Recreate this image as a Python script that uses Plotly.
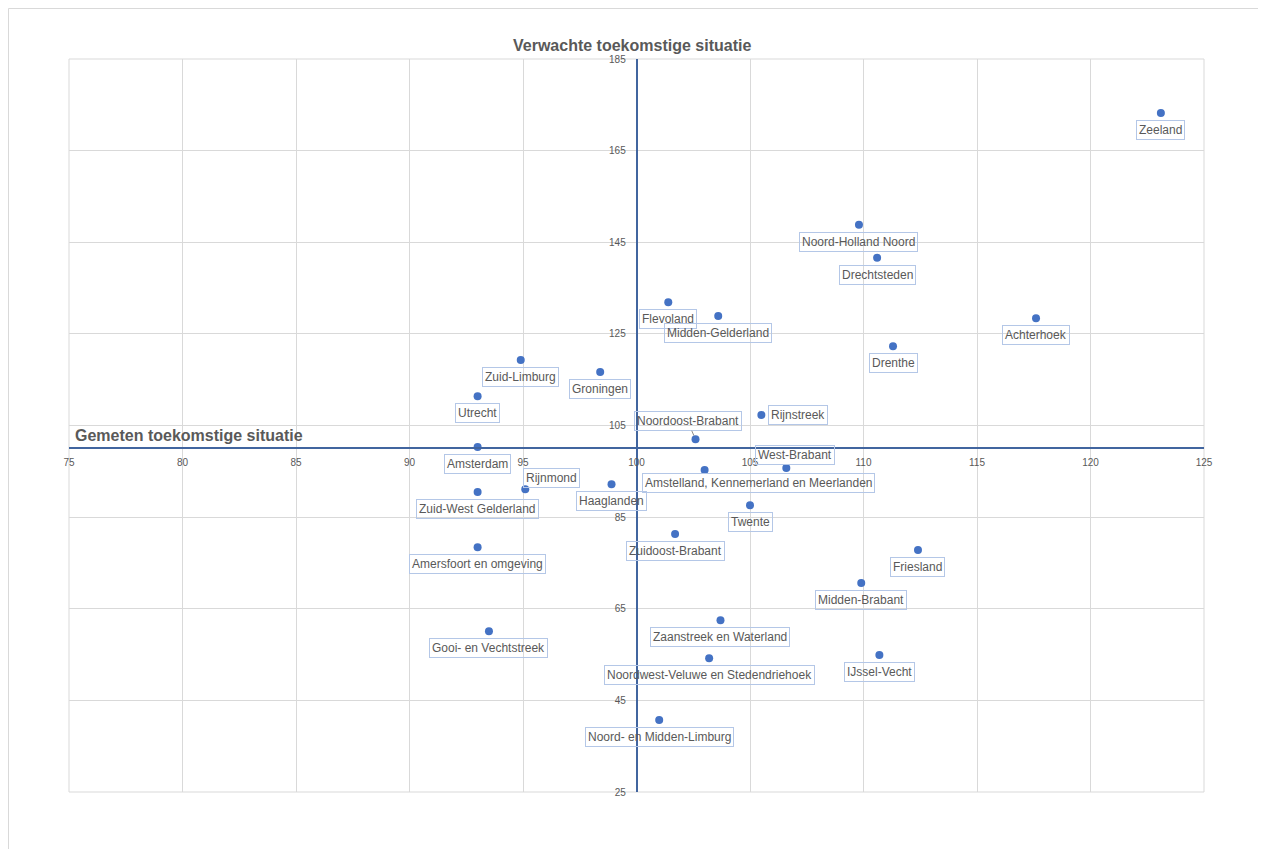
import plotly.graph_objects as go

regions = ["Zeeland", "Noord-Holland Noord", "Drechtsteden", "Achterhoek", "Drenthe",
           "Flevoland", "Midden-Gelderland", "Zuid-Limburg", "Groningen", "Utrecht",
           "Rijnstreek", "Noordoost-Brabant", "Amsterdam", "West-Brabant",
           "Amstelland, Kennemerland en Meerlanden", "Haaglanden", "Rijnmond",
           "Zuid-West Gelderland", "Twente", "Zuidoost-Brabant", "Amersfoort en omgeving",
           "Friesland", "Midden-Brabant", "Zaanstreek en Waterland", "Gooi- en Vechtstreek",
           "IJssel-Vecht", "Noordwest-Veluwe en Stedendriehoek", "Noord- en Midden-Limburg"]
gemeten = [123.1, 109.8, 110.6, 117.6, 111.3,
           101.4, 103.6, 94.9, 98.4, 93.0,
           105.5, 102.6, 93.0, 106.6,
           103.0, 98.9, 95.1,
           93.0, 105.0, 101.7, 93.0,
           112.4, 109.9, 103.7, 93.5,
           110.7, 103.2, 101.0]
verwacht = [173.2, 148.8, 141.6, 128.4, 122.3,
            131.9, 128.9, 119.3, 116.7, 111.4,
            107.3, 102.0, 100.3, 95.7,
            95.3, 92.2, 91.1,
            90.5, 87.6, 81.3, 78.4,
            77.8, 70.6, 62.5, 60.1,
            54.9, 54.2, 40.7]
x_ticks = [75, 80, 85, 90, 95, 100, 105, 110, 115, 120, 125]
y_ticks = [25, 45, 65, 85, 105, 125, 145, 165, 185]
y_title = "Verwachte toekomstige situatie"
x_title = "Gemeten toekomstige situatie"

# label offsets in pixels (dx right, dy down), default below the point
label_offsets = {
    "Rijnstreek": (37, 0),
    "Noordoost-Brabant": (-8, -18),
    "West-Brabant": (9, -13),
    "Amstelland, Kennemerland en Meerlanden": (54, 13),
    "Rijnmond": (26, -11),
}
default_offset = (0, 17)

FONT = "Liberation Sans"
GRAY = "#595959"
AXIS = "#41659f"
GRID = "#d9d9d9"

fig = go.Figure()
fig.add_trace(go.Scatter(
    x=gemeten, y=verwacht, mode="markers",
    marker=dict(color="#4472c4", size=8),
    hoverinfo="text", text=regions, showlegend=False,
))

annotations = []
for name, xv, yv in zip(regions, gemeten, verwacht):
    dx, dy = label_offsets.get(name, default_offset)
    common = dict(
        x=xv, y=yv, xref="x", yref="y", text=name,
        font=dict(family=FONT, size=12, color=GRAY),
        bordercolor="#b4c7e7", borderwidth=1, borderpad=2,
    )
    if name == "Noordoost-Brabant":
        annotations.append(dict(common, showarrow=True, ax=dx, ay=dy,
                                arrowhead=0, arrowwidth=1, arrowcolor="#8c8c8c",
                                standoff=4, startstandoff=0))
    else:
        annotations.append(dict(common, showarrow=False, xshift=dx, yshift=-dy,
                                xanchor="center", yanchor="middle"))

annotations.append(dict(text=y_title, xref="paper", yref="paper", x=0.496, y=1.019,
                        showarrow=False, xanchor="center", yanchor="middle",
                        font=dict(family=FONT, size=16, color=GRAY, weight="bold")))
annotations.append(dict(text=x_title, xref="paper", yref="paper", x=0.0035, y=0.486,
                        showarrow=False, xanchor="left", yanchor="middle",
                        font=dict(family=FONT, size=16, color=GRAY, weight="bold")))

x_min, x_max = x_ticks[0], x_ticks[-1]
y_min, y_max = y_ticks[0], y_ticks[-1]

fig.update_layout(
    width=1266, height=849,
    margin=dict(l=61, r=70, t=51, b=65),
    paper_bgcolor="white", plot_bgcolor="white",
    annotations=annotations,
    xaxis=dict(range=[x_min, x_max], tickvals=x_ticks, showgrid=True, gridcolor=GRID,
               gridwidth=1, zeroline=False, showline=True, linecolor=AXIS, linewidth=1.5,
               anchor="free", position=(100 - y_min) / (y_max - y_min),
               ticks="", ticklabelstandoff=5,
               tickfont=dict(family=FONT, size=10, color=GRAY)),
    yaxis=dict(range=[y_min, y_max], tickvals=y_ticks, showgrid=True, gridcolor=GRID,
               gridwidth=1, zeroline=False, showline=True, linecolor=AXIS, linewidth=1.5,
               anchor="free", position=(100 - x_min) / (x_max - x_min),
               ticks="", ticklabelstandoff=8,
               tickfont=dict(family=FONT, size=10, color=GRAY)),
    shapes=[
        dict(type="rect", xref="paper", yref="paper", x0=0, x1=1, y0=0, y1=1,
             line=dict(color=GRID, width=1), layer="below"),
        dict(type="rect", xref="paper", yref="paper", x0=-0.0533, x1=1.2, y0=-0.2, y1=1.0689,
             line=dict(color="#d9d9d9", width=1), layer="below"),
    ],
)

fig.write_html("out.html")
